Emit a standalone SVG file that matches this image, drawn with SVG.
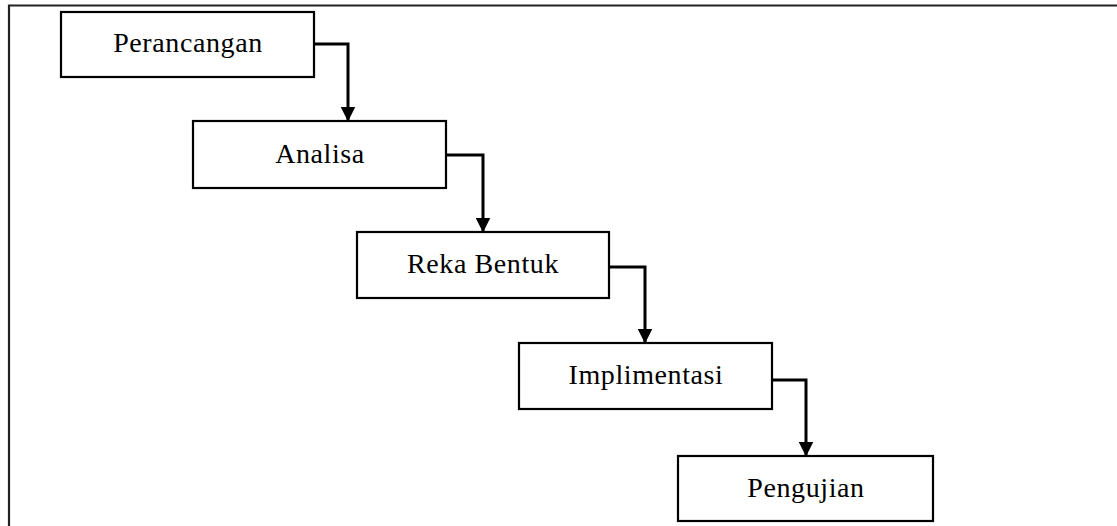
<svg xmlns="http://www.w3.org/2000/svg" width="1117" height="526" viewBox="0 0 1117 526">
<style>
.box{fill:#fff;stroke:#000;stroke-width:2.2}
.lbl{font-family:"Liberation Serif","Times New Roman",serif;font-size:28px;letter-spacing:0.6px;fill:#000;text-anchor:middle}
.con{fill:none;stroke:#000;stroke-width:3}
.frame{fill:none;stroke:#222;stroke-width:2.2}
</style>
<defs>
<marker id="arr" markerWidth="5" markerHeight="5" refX="4.5" refY="2.5" orient="auto" markerUnits="strokeWidth">
<path d="M0,0 L5,2.5 L0,5 Z" fill="#000"/>
</marker>
</defs>
<rect x="0" y="0" width="1117" height="526" fill="#fff"/>
<path class="frame" d="M9,526 V5.5 H1117"/>
<g id="connectors">
<path class="con" d="M314,44 H348 V120" marker-end="url(#arr)"/>
<path class="con" d="M446,155 H483 V231" marker-end="url(#arr)"/>
<path class="con" d="M609,267 H645 V342" marker-end="url(#arr)"/>
<path class="con" d="M772,380 H806 V455" marker-end="url(#arr)"/>
</g>
<g id="perancangan">
<rect class="box" x="61" y="12" width="253" height="65"/>
<text class="lbl" x="188" y="52">Perancangan</text>
</g>
<g id="analisa">
<rect class="box" x="193" y="121" width="253" height="67"/>
<text class="lbl" x="320" y="163">Analisa</text>
</g>
<g id="reka-bentuk">
<rect class="box" x="357" y="232" width="252" height="66"/>
<text class="lbl" x="483" y="273">Reka Bentuk</text>
</g>
<g id="implimentasi">
<rect class="box" x="519" y="343" width="253" height="66"/>
<text class="lbl" x="646" y="384">Implimentasi</text>
</g>
<g id="pengujian">
<rect class="box" x="678" y="456" width="255" height="65"/>
<text class="lbl" x="806" y="497">Pengujian</text>
</g>
</svg>
